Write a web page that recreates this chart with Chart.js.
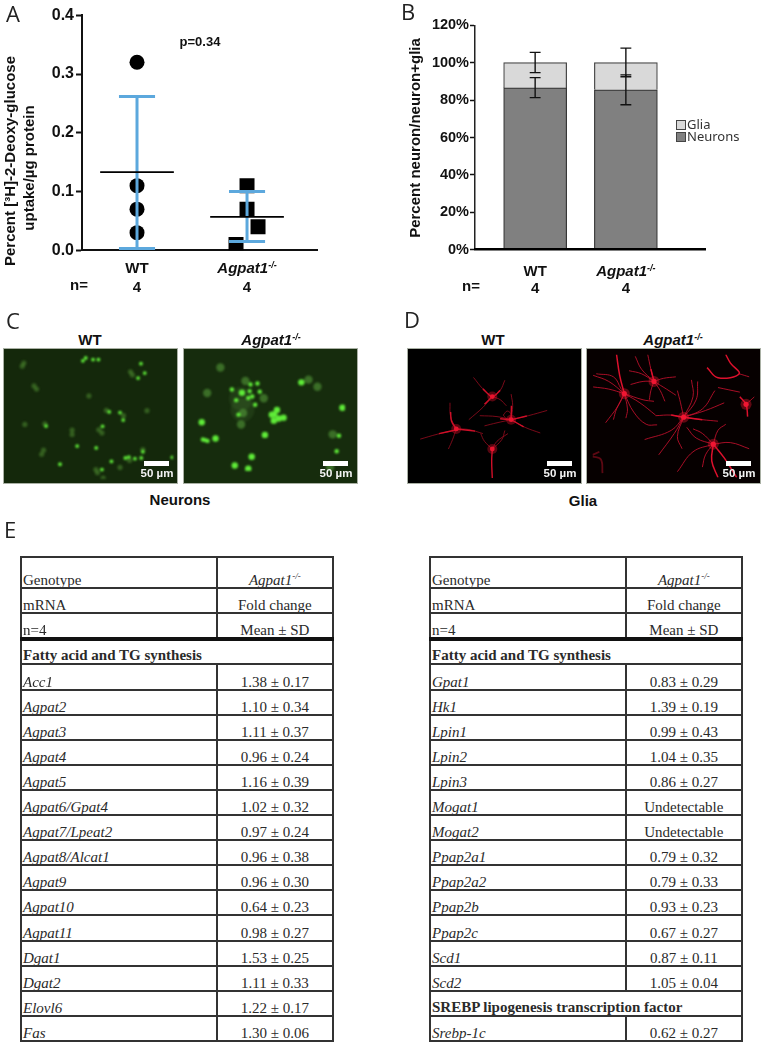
<!DOCTYPE html>
<html>
<head>
<meta charset="utf-8">
<title>Agpat1 neurons and glia</title>
<script src="https://cdn.jsdelivr.net/npm/chart.js@4/dist/chart.umd.min.js"></script>
<style>
  html, body { margin: 0; padding: 0; background: #fff; }
  #page { position: relative; width: 761px; height: 1043px; overflow: hidden; font-family: "Liberation Sans", Arial, sans-serif; color: #111; }
  canvas { position: absolute; display: block; }
  .lbl { position: absolute; transform: translate(-50%, -50%); white-space: nowrap; font-weight: bold; font-size: 15px; line-height: 1; }
  .lbl sup { font-size: 9px; line-height: 0; vertical-align: 5px; }
  .vert { position: absolute; transform: translate(-50%, -50%) rotate(-90deg); white-space: nowrap; font-weight: bold; font-size: 14px; line-height: 1; }
  .panel { position: absolute; font-family: "Open Sans", sans-serif; font-size: 22px; line-height: 1; color: #222; transform: translate(-50%, -50%); }
  .pic { position: absolute; width: 173px; height: 134px; overflow: hidden; outline: 1px solid #a9b0a4; }
  .pic canvas { left: 0; top: 0; }
  .bar { position: absolute; height: 5px; width: 25px; background: #fff; }
  .um { position: absolute; transform: translate(-50%, -50%); color: #f4f4f4; font-weight: bold; font-size: 11.5px; line-height: 1; white-space: nowrap; }
  .key { position: absolute; font-family: "Noto Sans", sans-serif; font-size: 13px; line-height: 1; color: #333; }
  .swatch { position: absolute; width: 8px; height: 8px; border: 1px solid #444; }
  table { position: absolute; top: 556px; width: 312px; table-layout: fixed; border-collapse: collapse; font-family: "Liberation Serif", "Times New Roman", serif; font-size: 15px; color: #2a2a2a; }
  td { border: 2px solid #333; padding: 0 0 0 1px; vertical-align: bottom; line-height: 14px; height: 24px; box-sizing: border-box; overflow: hidden; white-space: nowrap; }
  td.val { text-align: center; padding: 0; }
  td.gene { font-style: italic; }
  td.sec { font-weight: bold; padding-bottom: 1px; }
  td sup { font-size: 9px; line-height: 0; }
  tr.head1 td { height: 31.3px; }
  tr.last td { border-bottom: 4px solid #111; }
</style>
</head>
<body>
<div id="page"></div>
<script>
// panel A
const categories = ['WT', 'Agpat1'];
const groupPos = [1, 2];
const nValues = ['4', '4'];
const glucoseWT = [0.32, 0.11, 0.07, 0.03];
const glucoseKO = [0.11, 0.07, 0.04, 0.01];
const glucoseKOJitter = [0, 0, 0.1, -0.1];
const glucoseMean = [0.133, 0.057];
const glucoseHigh = [0.262, 0.1];
const glucoseLow = [0.003, 0.015];
const glucoseTicks = [0, 0.1, 0.2, 0.3, 0.4];

// panel B
const neuronsPct = [86.5, 85.5];
const gliaPct = [13.5, 14.5];
const neuronsHigh = [92, 93.5];
const neuronsLow = [81.3, 77.5];
const gliaHigh = [105.5, 107.8];
const gliaLow = [94.7, 92.5];
const pctTicks = [0, 20, 40, 60, 80, 100, 120];

const wtBright = [[248,37],[257,28],[280,33],[297,33],[431,46],[443,76],[422,92],[331,200],[365,202],[375,226],[132,245],[230,309],[290,315],[176,367],[437,327],[412,349],[382,347],[393,344],[432,347],[338,358],[308,384],[530,345],[310,246]];
const wtDim = [[62,44],[57,54],[94,117],[102,127],[267,149],[398,72],[404,82],[322,195],[450,196],[376,212],[65,240],[128,238],[214,272],[214,258],[298,257],[308,267],[124,322],[118,335],[437,320],[365,377],[289,384],[294,394],[312,411],[395,355]];
const koBig = [[168,128],[290,191],[280,207],[272,208],[279,230],[313,219],[296,222],[248,282],[76,295],[202,362],[518,183],[375,90],[28,236],[143,394],[190,406]];
const koSmall = [[198,98],[222,94],[133,116],[195,122],[230,124],[204,142],[190,147],[148,155],[214,172],[156,208],[498,342],[506,285],[32,299],[40,301],[48,304]];
const koDim = [[93,36],[180,85],[400,80],[431,106],[47,129],[244,148],[172,202],[165,244],[484,280],[475,400]];
const koGlow = [[165,150],[170,190]];

const gliaWTBodies = [[150,255],[265,150],[325,225],[265,320]];
const gliaWTThick = [
  [[132,200],[135,230],[150,255]], [[95,270],[150,258]], [[150,255],[210,262]], [[235,125],[265,150],[290,130]],
  [[265,150],[240,175]], [[325,225],[375,213]], [[325,225],[365,248]], [[326,180],[325,225]], [[325,225],[290,222]],
  [[265,415],[263,360],[265,320]]
];
const gliaWTThin = [
  [[130,170],[132,215],[150,255]], [[35,288],[90,272],[150,258]], [[150,255],[190,257],[235,270]], [[150,255],[138,290],[125,320]],
  [[205,88],[235,125],[265,150]], [[305,97],[290,130],[265,150]], [[265,150],[235,185],[190,225]], [[265,150],[290,160],[310,180]],
  [[325,225],[380,212],[440,195]], [[325,225],[370,250],[418,268]], [[325,142],[330,180],[325,225]], [[325,225],[280,215],[225,212]],
  [[325,225],[280,235],[240,245]], [[300,210],[313,197],[326,210],[313,223],[300,210]],
  [[265,320],[240,295],[228,270]], [[265,320],[280,295],[315,270]], [[265,320],[295,290],[305,260]]
];
const gliaKOBodies = [[120,140],[215,100],[310,217],[405,305],[510,175]];
const gliaKOThick = [
  [[95,12],[105,80],[120,140]], [[405,305],[440,350],[480,414]], [[405,305],[400,360],[420,414]],
  [[385,55],[420,88],[488,75],[460,40],[445,12]], [[310,217],[270,210]], [[310,217],[370,225]], [[215,100],[205,60]], [[490,150],[510,175],[515,215]]
];
const gliaKOThin = [
  [[20,80],[70,100],[120,140]], [[20,118],[70,125],[120,140]], [[30,75],[85,85],[110,125]], [[120,140],[100,180],[60,235]],
  [[120,140],[95,190],[85,225]], [[120,140],[130,190],[125,220]], [[120,140],[150,200],[190,240],[225,242]], [[120,140],[170,170],[220,210]],
  [[120,140],[180,160],[215,165]], [[155,18],[175,60],[215,100]], [[195,12],[205,60],[215,100]], [[135,65],[175,75],[215,100]],
  [[140,110],[180,100],[215,100]], [[215,100],[245,90],[285,85]], [[215,100],[205,130],[200,160]], [[215,100],[235,130],[250,165]],
  [[215,100],[255,125],[285,145]], [[310,217],[340,150],[335,95]], [[310,217],[350,160],[355,100]], [[310,217],[370,190],[410,130]],
  [[310,217],[380,195],[440,170]], [[310,217],[370,225],[420,230]], [[310,217],[270,210],[220,212]], [[310,217],[270,260],[185,290]],
  [[310,217],[280,270],[230,340]], [[310,217],[290,280],[305,320]], [[310,217],[300,170],[290,130]], [[405,305],[460,300],[520,320]],
  [[405,305],[350,285],[320,250]], [[405,305],[340,330],[290,395]], [[405,305],[420,260],[445,240]], [[405,305],[380,340],[370,380]],
  [[405,305],[370,270],[340,255]], [[488,75],[520,85]], [[537,150],[510,175]], [[420,120],[490,135]]
];
const gliaKOFaint = [[[18,345],[45,355],[50,400]], [[18,340],[40,330]]];

// panel E
const genesLeft = ['Acc1','Agpat2','Agpat3','Agpat4','Agpat5','Agpat6/Gpat4','Agpat7/Lpeat2','Agpat8/Alcat1','Agpat9','Agpat10','Agpat11','Dgat1','Dgat2','Elovl6','Fas'];
const foldLeft = ['1.38 ± 0.17','1.10 ± 0.34','1.11 ± 0.37','0.96 ± 0.24','1.16 ± 0.39','1.02 ± 0.32','0.97 ± 0.24','0.96 ± 0.38','0.96 ± 0.30','0.64 ± 0.23','0.98 ± 0.27','1.53 ± 0.25','1.11 ± 0.33','1.22 ± 0.17','1.30 ± 0.06'];
const genesRight = ['Gpat1','Hk1','Lpin1','Lpin2','Lpin3','Mogat1','Mogat2','Ppap2a1','Ppap2a2','Ppap2b','Ppap2c','Scd1','Scd2','SREBP lipogenesis transcription factor','Srebp-1c'];
const foldRight = ['0.83 ± 0.29','1.39 ± 0.19','0.99 ± 0.43','1.04 ± 0.35','0.86 ± 0.27','Undetectable','Undetectable','0.79 ± 0.32','0.79 ± 0.33','0.93 ± 0.23','0.67 ± 0.27','0.87 ± 0.11','1.05 ± 0.04','','0.62 ± 0.27'];

const page = document.getElementById('page');
const KO_HTML = '<i>Agpat1<sup>-/-</sup></i>';

function addEl(cls, html, x, y, fontSize) {
  const el = document.createElement('div');
  el.className = cls;
  el.innerHTML = html;
  el.style.left = x + 'px';
  el.style.top = y + 'px';
  if (fontSize) el.style.fontSize = fontSize + 'px';
  page.appendChild(el);
  return el;
}

function addCanvas(parent, x, y, w, h) {
  const c = document.createElement('canvas');
  c.width = w;
  c.height = h;
  c.style.left = x + 'px';
  c.style.top = y + 'px';
  c.style.width = w + 'px';
  c.style.height = h + 'px';
  parent.appendChild(c);
  return c;
}

// a polyline broken by empty points, so one dataset can hold many strokes
function strokes(paths) {
  const out = [];
  paths.forEach(function(p) {
    p.forEach(function(q) { out.push({ x: q[0], y: q[1] }); });
    out.push({ x: null, y: null });
  });
  return out;
}

function whiskers(xs, lows, highs, cap) {
  const paths = [];
  xs.forEach(function(x, i) {
    paths.push([[x, lows[i]], [x, highs[i]]]);
    paths.push([[x - cap, highs[i]], [x + cap, highs[i]]]);
    paths.push([[x - cap, lows[i]], [x + cap, lows[i]]]);
  });
  return strokes(paths);
}

function lineSet(data, color, width, tension, yAxisID) {
  return { type: 'line', data: data, borderColor: color, borderWidth: width, pointRadius: 0, tension: tension || 0, fill: false, yAxisID: yAxisID || 'y', borderCapStyle: 'butt' };
}

function pointSet(data, style, radius, color) {
  return { type: 'scatter', data: data, pointStyle: style, pointRadius: radius, pointBackgroundColor: color, pointBorderWidth: 0 };
}

function tickFont(size) {
  return { family: '"Liberation Sans", Arial, sans-serif', size: size, weight: 'bold' };
}

function renderGlucoseChart() {
  const canvas = addCanvas(page, 0, 0, 330, 300);
  const wtPts = glucoseWT.map(function(v) { return { x: groupPos[0], y: v }; });
  const koPts = glucoseKO.map(function(v, i) { return { x: groupPos[1] + glucoseKOJitter[i], y: v }; });
  const meanLines = strokes(groupPos.map(function(x, i) { return [[x - 0.335, glucoseMean[i]], [x + 0.335, glucoseMean[i]]]; }));
  return new Chart(canvas, {
    data: {
      datasets: [
        lineSet(meanLines, '#000', 1.8),
        lineSet(whiskers(groupPos, glucoseLow, glucoseHigh, 0.164), '#5ca8dd', 3),
        pointSet(wtPts, 'circle', 7.5, '#000'),
        pointSet(koPts, 'rect', 10.6, '#000')
      ]
    },
    options: {
      responsive: false,
      animation: false,
      layout: { padding: { left: 22, right: 13, top: 15.3, bottom: 49.7 } },
      plugins: { legend: { display: false }, tooltip: { enabled: false } },
      scales: {
        x: {
          type: 'linear', min: 0.5, max: 2.636,
          afterFit: function(s) { s.height = 0; },
          ticks: { display: false },
          grid: { display: false },
          border: { display: true, color: '#111', width: 2 }
        },
        y: {
          min: 0, max: 0.4,
          afterFit: function(s) { s.width = 60; },
          afterBuildTicks: function(s) { s.ticks = glucoseTicks.map(function(v) { return { value: v }; }); },
          ticks: { font: tickFont(16), color: '#111', padding: 2, callback: function(v) { return v.toFixed(1); } },
          grid: { drawOnChartArea: false, drawTicks: true, tickLength: 6, tickWidth: 2, tickColor: '#111' },
          border: { display: true, color: '#111', width: 2 }
        }
      }
    }
  });
}

function renderStackedChart() {
  const canvas = addCanvas(page, 380, 0, 340, 300);
  return new Chart(canvas, {
    data: {
      datasets: [
        lineSet(whiskers(groupPos, gliaLow, gliaHigh, 0.06), '#111', 1.4, 0, 'yErr'),
        lineSet(whiskers(groupPos, neuronsLow, neuronsHigh, 0.06), '#111', 1.4, 0, 'yErr'),
        { type: 'bar', data: groupPos.map(function(x, i) { return { x: x, y: neuronsPct[i] }; }), backgroundColor: '#808080', borderColor: '#333', borderWidth: 1.2, barThickness: 63, grouped: false, yAxisID: 'y' },
        { type: 'bar', data: groupPos.map(function(x, i) { return { x: x, y: gliaPct[i] }; }), backgroundColor: '#d9d9d9', borderColor: '#444', borderWidth: 1.2, barThickness: 63, grouped: false, yAxisID: 'y' }
      ]
    },
    options: {
      responsive: false,
      animation: false,
      layout: { padding: { left: 35, right: 14.3, top: 25.3, bottom: 50.3 } },
      plugins: { legend: { display: false }, tooltip: { enabled: false } },
      scales: {
        x: {
          type: 'linear', min: 0.337, max: 2.88, offset: false,
          afterFit: function(s) { s.height = 0; },
          ticks: { display: false },
          grid: { display: false, offset: false },
          border: { display: true, color: '#000', width: 2.5, z: 1 }
        },
        y: {
          stacked: true, min: 0, max: 120,
          afterFit: function(s) { s.width = 60; },
          afterBuildTicks: function(s) { s.ticks = pctTicks.map(function(v) { return { value: v }; }); },
          ticks: { font: tickFont(14.5), color: '#111', padding: 1, callback: function(v) { return v + '%'; } },
          grid: { drawOnChartArea: false, drawTicks: true, tickLength: 5, tickWidth: 1.5, tickColor: '#111' },
          border: { display: true, color: '#222', width: 1.5 }
        },
        yErr: { display: false, min: 0, max: 120 }
      }
    }
  });
}

function picChart(x, y, bg, blur, bounds, datasets) {
  const box = document.createElement('div');
  box.className = 'pic';
  box.style.left = x + 'px';
  box.style.top = y + 'px';
  box.style.background = bg;
  page.appendChild(box);
  const canvas = addCanvas(box, 0, 0, 173, 134);
  canvas.style.filter = 'blur(' + blur + 'px)';
  return new Chart(canvas, {
    data: { datasets: datasets },
    options: {
      responsive: false,
      animation: false,
      layout: { padding: 0 },
      plugins: { legend: { display: false }, tooltip: { enabled: false } },
      scales: {
        x: { type: 'linear', display: false, min: bounds[0], max: bounds[1] },
        y: { type: 'linear', display: false, min: 12, max: 414, reverse: true }
      }
    }
  });
}

function toPts(list) {
  return list.map(function(p) { return { x: p[0], y: p[1] }; });
}

function addScale(barLeft) {
  const b = addEl('bar', '', barLeft, 461);
  addEl('um', '50 µm', barLeft + 13, 474);
  return b;
}

function renderMicrographs() {
  picChart(4, 349, '#14280b', 0.8, [12, 532], [
    pointSet(toPts(wtBright), 'circle', 1.9, '#5eea38'),
    pointSet(toPts(wtDim), 'circle', 2.6, 'rgba(84,150,52,0.5)')
  ]);
  picChart(184, 349, '#162c0d', 0.8, [8, 527], [
    pointSet(toPts(koBig), 'circle', 3.2, '#5fec38'),
    pointSet(toPts(koSmall), 'circle', 2.2, '#5fec38'),
    pointSet(toPts(koDim), 'circle', 4.2, 'rgba(96,175,66,0.5)'),
    pointSet(toPts(koGlow), 'circle', 12, 'rgba(110,170,80,0.12)')
  ]);
  picChart(408, 349, '#000', 0.4, [12, 532], [
    pointSet(toPts(gliaWTBodies), 'circle', 2.4, '#e9142e'),
    pointSet(toPts(gliaWTBodies), 'circle', 5, 'rgba(215,15,40,0.4)'),
    lineSet(strokes(gliaWTThick), '#cf0f28', 1.4, 0.4),
    lineSet(strokes(gliaWTThin), '#980c20', 0.8, 0.4)
  ]);
  picChart(587, 349, '#060000', 0.4, [18, 537], [
    pointSet(toPts(gliaKOBodies), 'circle', 2.6, '#f01632'),
    pointSet(toPts(gliaKOBodies), 'circle', 5.5, 'rgba(230,20,45,0.4)'),
    lineSet(strokes(gliaKOThick), '#dc102c', 1.5, 0.4),
    lineSet(strokes(gliaKOThin), '#d01230', 0.8, 0.4),
    lineSet(strokes(gliaKOFaint), '#5c0812', 1.8, 0.4)
  ]);
  addScale(144);
  addScale(323);
  addScale(547);
  addScale(726);
}

function buildTable(x, genes, folds) {
  const t = document.createElement('table');
  t.style.left = x + 'px';
  let html = '<colgroup><col style="width:195.7px"><col style="width:116.3px"></colgroup>';
  html += '<tr class="head1"><td>Genotype</td><td class="val">' + KO_HTML + '</td></tr>';
  html += '<tr style="height:25px"><td>mRNA</td><td class="val">Fold change</td></tr>';
  html += '<tr class="last"><td>n=4</td><td class="val">Mean ± SD</td></tr>';
  html += '<tr><td class="sec" colspan="2">Fatty acid and TG synthesis</td></tr>';
  genes.forEach(function(g, i) {
    if (folds[i] === '') {
      html += '<tr><td class="sec" colspan="2">' + g + '</td></tr>';
    } else {
      html += '<tr><td class="gene">' + g + '</td><td class="val">' + folds[i] + '</td></tr>';
    }
  });
  t.innerHTML = html;
  page.appendChild(t);
  t.querySelectorAll('tr').forEach(function(r, i) {
    r.style.height = (i === 0 ? 31.3 : i === 1 ? 25 : i === 2 ? 25.7 : i === 3 ? 25.5 : 25.1) + 'px';
  });
}

function categoryHtml(i) {
  return categories[i] === 'WT' ? 'WT' : KO_HTML;
}

function main() {
  const a = renderGlucoseChart();
  const b = renderStackedChart();
  renderMicrographs();

  addEl('panel', 'A', 13, 13);
  addEl('panel', 'B', 408, 11);
  addEl('panel', 'C', 13, 320);
  addEl('panel', 'D', 412, 319);
  addEl('panel', 'E', 10, 529);

  addEl('vert', 'Percent [³H]-2-Deoxy-glucose', 9, 161, 15);
  addEl('vert', 'uptake/µg protein', 28, 168, 15);
  addEl('vert', 'Percent neuron/neuron+glia', 414, 138, 15);
  addEl('lbl', 'p=0.34', 200, 41, 13);

  groupPos.forEach(function(v, i) {
    const ax = a.scales.x.getPixelForValue(v);
    addEl('lbl', categoryHtml(i), ax, 267);
    addEl('lbl', nValues[i], ax, 286);
    const bx = 380 + b.scales.x.getPixelForValue(v);
    addEl('lbl', categoryHtml(i), bx, 270);
    addEl('lbl', nValues[i], bx, 287);
  });
  addEl('lbl', 'n=', 79, 284);
  addEl('lbl', 'n=', 471, 285);

  addEl('lbl', 'WT', 90, 339);
  addEl('lbl', KO_HTML, 271, 339);
  addEl('lbl', 'Neurons', 180, 499);
  addEl('lbl', 'WT', 493, 339);
  addEl('lbl', KO_HTML, 673, 339);
  addEl('lbl', 'Glia', 583, 500);

  const s1 = addEl('swatch', '', 676, 120);
  s1.style.background = '#d9d9d9';
  const s2 = addEl('swatch', '', 676, 132);
  s2.style.background = '#808080';
  addEl('key', 'Glia', 687, 118);
  addEl('key', 'Neurons', 687, 130);

  buildTable(20, genesLeft, foldLeft);
  buildTable(429, genesRight, foldRight);
}

main();
</script>
</body>
</html>
